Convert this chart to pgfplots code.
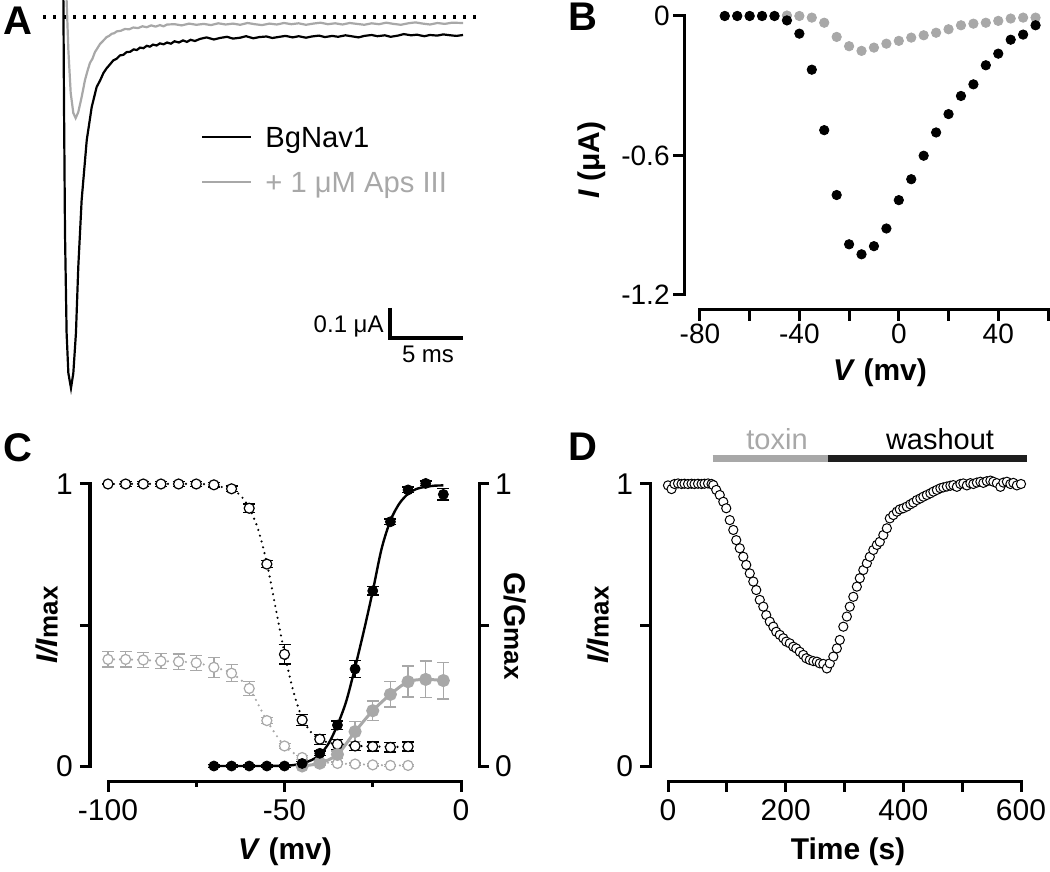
\documentclass[border=0pt]{standalone}
\usepackage{pgfplots}
\pgfplotsset{compat=1.18}
\usepackage{fontspec}
\setmainfont{Liberation Sans}
\definecolor{lg}{RGB}{168,168,168}
\definecolor{dk}{RGB}{30,30,30}
\newcommand{\fs}[1]{\fontsize{#1}{#1}\selectfont}
\pgfplotsset{prism/.style={
  scale only axis, clip=false, anchor=south west,
  axis line style={draw=none},
  tick align=outside,
  tick style={black, line width=1.5pt},
  major tick length=5pt, minor tick length=2.5pt,
}}
\pgfplotstableread{
x y
-0.30 0.20
-0.11 0.057
-0.07 -0.277
0.00 -0.72
0.11 -1.053
0.23 -1.187
0.41 -1.237
0.57 -1.187
0.75 -1.053
0.91 -0.833
1.14 -0.61
1.49 -0.41
1.83 -0.30
2.17 -0.233
2.40 -0.212
2.63 -0.187
2.85 -0.171
3.08 -0.158
3.30 -0.145
3.54 -0.139
3.77 -0.128
4.00 -0.126
4.22 -0.117
4.46 -0.116
4.70 -0.108
4.92 -0.110
5.14 -0.102
5.37 -0.104
5.60 -0.096
5.81 -0.099
6.03 -0.092
6.27 -0.095
6.50 -0.088
6.75 -0.091
6.99 -0.085
7.25 -0.089
7.50 -0.081
7.80 -0.085
8.08 -0.078
8.35 -0.083
8.60 -0.076
8.90 -0.080
9.25 -0.073
9.70 -0.068
10.2 -0.075
10.6 -0.070
11.1 -0.066
11.5 -0.072
12.0 -0.069
12.4 -0.064
12.9 -0.071
13.3 -0.067
13.8 -0.065
14.2 -0.070
14.7 -0.066
15.1 -0.063
15.6 -0.068
16.0 -0.064
16.5 -0.069
16.9 -0.065
17.4 -0.062
17.8 -0.067
18.3 -0.063
18.7 -0.066
19.2 -0.061
19.6 -0.064
20.1 -0.068
20.5 -0.063
21.0 -0.060
21.4 -0.064
21.9 -0.061
22.3 -0.066
22.8 -0.062
23.2 -0.057
23.7 -0.061
24.1 -0.059
24.6 -0.064
25.0 -0.060
25.5 -0.062
25.9 -0.058
26.4 -0.061
26.8 -0.063
27.26 -0.060
}\traceA
\pgfplotstableread{
x y
0.05 0.20
0.11 0.057
0.23 -0.11
0.39 -0.253
0.57 -0.32
0.73 -0.337
0.91 -0.317
1.14 -0.267
1.37 -0.21
1.55 -0.178
1.71 -0.153
1.88 -0.139
2.05 -0.117
2.22 -0.104
2.40 -0.090
2.62 -0.079
2.85 -0.067
3.02 -0.063
3.20 -0.056
3.37 -0.054
3.54 -0.048
3.82 -0.046
4.10 -0.040
4.40 -0.041
4.68 -0.035
5.00 -0.037
5.30 -0.031
5.60 -0.034
5.90 -0.028
6.20 -0.032
6.50 -0.027
6.75 -0.031
6.99 -0.025
7.5 -0.024
8.0 -0.028
8.5 -0.022
9.0 -0.026
9.5 -0.023
10.0 -0.027
10.5 -0.021
11.0 -0.025
11.5 -0.022
12.0 -0.026
12.5 -0.020
13.0 -0.024
13.5 -0.027
14.0 -0.022
14.5 -0.025
15.0 -0.020
15.5 -0.024
16.0 -0.021
16.5 -0.026
17.0 -0.022
17.5 -0.019
18.0 -0.024
18.5 -0.021
19.0 -0.025
19.5 -0.020
20.0 -0.023
20.5 -0.026
21.0 -0.021
21.5 -0.024
22.0 -0.019
22.5 -0.023
23.0 -0.026
23.5 -0.021
24.0 -0.018
24.5 -0.022
25.0 -0.025
25.5 -0.020
26.0 -0.023
26.5 -0.019
27.26 -0.020
}\traceB
\pgfplotstableread{
v i
-70 0
-65 0
-60 0
-55 0
-50 0
-45 -0.019
-40 -0.076
-35 -0.231
-30 -0.491
-25 -0.770
-20 -0.982
-15 -1.025
-10 -0.990
-5 -0.914
0 -0.792
5 -0.702
10 -0.601
15 -0.501
20 -0.422
25 -0.344
30 -0.294
35 -0.212
40 -0.162
45 -0.102
50 -0.080
55 -0.040
}\ivctl
\pgfplotstableread{
v i
-70 0
-65 0
-60 0
-55 0
-50 0
-45 0.002
-40 0
-35 -0.007
-30 -0.029
-25 -0.090
-20 -0.130
-15 -0.150
-10 -0.136
-5 -0.119
0 -0.107
5 -0.093
10 -0.083
15 -0.072
20 -0.057
25 -0.040
30 -0.033
35 -0.029
40 -0.021
45 -0.011
50 -0.007
55 -0.007
}\ivtox
\pgfplotstableread{
x y e
-100 1.000 0.000
-95 1.000 0.008
-90 1.000 0.008
-85 1.000 0.008
-80 1.000 0.008
-75 1.000 0.008
-70 0.997 0.008
-65 0.983 0.010
-60 0.914 0.015
-55 0.716 0.012
-50 0.396 0.034
-45 0.163 0.020
-40 0.095 0.018
-35 0.077 0.018
-30 0.071 0.016
-25 0.069 0.016
-20 0.066 0.016
-15 0.069 0.016
}\inactctl
\pgfplotstableread{
x y
-100 1.0
-75 1.0
-70 0.995
-65 0.98
-62.5 0.96
-60 0.915
-57.5 0.84
-55 0.72
-52.5 0.56
-50 0.40
-47.5 0.265
-45 0.17
-42.5 0.12
-40 0.095
-37.5 0.083
-35 0.077
-30 0.072
-25 0.069
-20 0.068
-15 0.068
}\inactctlfit
\pgfplotstableread{
x y e
-100 0.378 0.027
-95 0.378 0.027
-90 0.376 0.027
-85 0.372 0.027
-80 0.370 0.027
-75 0.366 0.027
-70 0.350 0.035
-65 0.329 0.030
-60 0.275 0.025
-55 0.161 0.010
-50 0.071 0.010
-45 0.030 0.008
-40 0.015 0.006
-35 0.009 0.005
-30 0.007 0.004
-25 0.004 0.004
-20 0.002 0.004
-15 0.002 0.004
}\inacttox
\pgfplotstableread{
x y e
-70 0 0.005
-65 0 0.005
-60 0 0.005
-55 0 0.005
-50 0 0.005
-45 0.009 0.006
-40 0.045 0.008
-35 0.145 0.015
-30 0.344 0.031
-25 0.621 0.015
-20 0.866 0.010
-15 0.979 0.010
-10 1.002 0.008
-5 0.963 0.020
}\actctl
\pgfplotstableread{
x y
-70 0
-50 0.001
-45 0.01
-42.5 0.02
-40 0.04
-37.5 0.08
-35 0.145
-32.5 0.23
-30 0.35
-27.5 0.48
-25 0.62
-22.5 0.77
-20 0.87
-17.5 0.93
-15 0.965
-12.5 0.983
-10 0.99
-7.5 0.994
-5 0.995
}\actctlfit
\pgfplotstableread{
x y e
-45 0.000 0.004
-40 0.010 0.006
-35 0.041 0.012
-30 0.122 0.035
-25 0.196 0.035
-20 0.254 0.045
-15 0.299 0.055
-10 0.307 0.065
-5 0.303 0.065
}\acttox
\pgfplotstableread{
t v
0 0.995
6 0.982
11 1.000
17 1.002
23 1.000
28 1.001
34 1.000
40 1.001
45 1.000
51 1.001
57 1.000
62 1.001
68 1.002
74 1.000
77 0.996
82 0.979
88 0.961
94 0.937
99 0.914
105 0.872
111 0.837
116 0.801
122 0.772
128 0.742
133 0.713
139 0.683
145 0.654
150 0.624
156 0.589
162 0.565
167 0.535
173 0.512
179 0.494
184 0.476
190 0.465
196 0.453
201 0.441
207 0.435
213 0.423
218 0.417
224 0.405
230 0.394
235 0.382
241 0.376
247 0.372
253 0.370
258 0.364
264 0.362
270 0.346
275 0.364
281 0.388
287 0.417
292 0.447
298 0.494
304 0.530
309 0.565
315 0.600
321 0.636
326 0.666
332 0.695
338 0.719
343 0.742
349 0.766
355 0.784
360 0.795
366 0.819
372 0.843
377 0.878
383 0.890
389 0.902
394 0.910
400 0.914
406 0.920
412 0.928
417 0.934
423 0.943
429 0.949
434 0.955
440 0.961
446 0.967
451 0.973
457 0.979
463 0.985
468 0.988
474 0.991
480 0.994
485 0.996
491 0.990
497 1.000
502 1.002
508 0.995
514 1.003
519 1.000
525 1.005
531 1.008
536 1.004
542 1.010
548 1.012
553 1.008
559 1.003
565 0.990
570 1.005
576 1.008
582 1.000
587 1.004
593 0.995
600 1.000
}\timecourse
\begin{document}
\begin{tikzpicture}
\useasboundingbox (0,0) rectangle (525pt,436pt);
% ---------------- A ----------------
\begin{axis}[scale only axis, anchor=south west, at={(21pt,232.5pt)},
  width=219pt, height=203.5pt, axis lines=none, clip=true,
  xmin=-1.575, xmax=28.42, ymin=-1.3, ymax=0.0567]
\draw[line width=1.7pt, dash pattern=on 1.7pt off 3.3pt] (axis cs:-1.5,0) -- (axis cs:28.3,0);
\addplot[lg, line width=1.1pt] table[x=x,y=y] {\traceB};
\addplot[black, line width=1.1pt] table[x=x,y=y] {\traceA};
\draw[line width=2pt] (axis cs:22.26,-0.97) -- (axis cs:22.26,-1.07) -- (axis cs:27.26,-1.07);
\end{axis}
\draw[black, line width=1pt] (101pt,367.5pt) -- (125.5pt,367.5pt);
\draw[lg, line width=1pt] (101pt,345pt) -- (125.5pt,345pt);
\node[anchor=base west, inner sep=0pt, font=\fs{14.6}] at (132.5pt,362pt) {BgNav1};
\node[anchor=base west, inner sep=0pt, font=\fs{14.6}, text=lg] at (132.5pt,339.5pt) {+ 1 μM Aps III};
\node[anchor=base east, inner sep=0pt, font=\fs{12}] at (192pt,269.5pt) {0.1 μA};
\node[anchor=base, inner sep=0pt, font=\fs{12}] at (214pt,254.5pt) {5 ms};
% ---------------- B ----------------
\begin{axis}[prism, at={(342pt,281pt)}, width=182pt, height=147pt,
  xmin=-86.4, xmax=60, ymin=-1.2645, ymax=0,
  xtick={-80,-60,...,60}, xticklabels={-80,,-40,,0,,40,},
  ytick={-1.2,-0.6,0}, yticklabels={-1.2,-0.6,0},
  xtick pos=left, ytick pos=left, major tick length=5.5pt,
  tick label style={font=\fs{14}, inner sep=1.5pt}]
\draw[line width=1.5pt, line cap=rect] (axis cs:-86.4,0) -- (axis cs:-86.4,-1.2);
\draw[line width=1.5pt, line cap=rect] (axis cs:-80,-1.2645) -- (axis cs:60,-1.2645);
\addplot[only marks, mark=*, mark size=2.35pt, mark options={draw=lg, fill=lg}] table[x=v,y=i] {\ivtox};
\addplot[only marks, mark=*, mark size=2.35pt, mark options={draw=black, fill=black}] table[x=v,y=i] {\ivctl};
\end{axis}
\node[rotate=90, font=\fs{15}\bfseries] at (296pt,356pt) {\textit{I} (μA)};
\node[font=\fs{15}\bfseries] at (440pt,249.5pt) {\textit{V} (mv)};
% ---------------- C ----------------
\begin{axis}[prism, at={(45pt,45pt)}, width=194.5pt, height=149pt,
  xmin=-105.1, xmax=5.1, ymin=-0.0567, ymax=1,
  xtick={-100,-50,0}, xticklabels={-100,-50,0}, minor xtick={-75,-25},
  ytick={0,0.5,1}, yticklabels={0,,1},
  xtick pos=left, ytick pos=both, yticklabel pos=left,
  tick label style={font=\fs{15}}]
\draw[line width=1.5pt, line cap=rect] (axis cs:-105.1,0) -- (axis cs:-105.1,1);
\draw[line width=1.5pt, line cap=rect] (axis cs:5.1,0) -- (axis cs:5.1,1);
\draw[line width=1.5pt, line cap=rect] (axis cs:-100,-0.0567) -- (axis cs:0,-0.0567);
% inactivation, toxin (grey open)
\addplot[lg, line width=1.2pt, line cap=round, dash pattern=on 0pt off 3pt, smooth] table[x=x,y=y] {\inacttox};
\addplot[lg, only marks, mark=*, mark size=2.5pt, mark options={draw=lg, fill=white, line width=0.6pt},
  error bars/.cd, y dir=both, y explicit, error bar style={lg, line width=0.6pt},
  error mark options={rotate=90, mark size=3pt, line width=0.6pt, lg}] table[x=x,y=y,y error=e] {\inacttox};
% inactivation, control (black open)
\addplot[black, line width=1.2pt, line cap=round, dash pattern=on 0pt off 3pt, smooth] table[x=x,y=y] {\inactctlfit};
\addplot[black, only marks, mark=*, mark size=2.5pt, mark options={draw=black, fill=white, line width=0.6pt},
  error bars/.cd, y dir=both, y explicit, error bar style={black, line width=0.6pt},
  error mark options={rotate=90, mark size=3pt, line width=0.6pt, black}] table[x=x,y=y,y error=e] {\inactctl};
% activation, toxin (grey filled)
\addplot[lg, line width=1.5pt, smooth, mark=*, mark size=2.5pt, mark options={draw=lg, fill=lg},
  error bars/.cd, y dir=both, y explicit, error bar style={lg, line width=0.7pt},
  error mark options={rotate=90, mark size=3pt, line width=0.7pt, lg}] table[x=x,y=y,y error=e] {\acttox};
% activation, control (black filled)
\addplot[black, line width=1.2pt, smooth] table[x=x,y=y] {\actctlfit};
\addplot[black, only marks, mark=*, mark size=2.5pt, mark options={draw=black, fill=black},
  error bars/.cd, y dir=both, y explicit, error bar style={black, line width=0.7pt},
  error mark options={rotate=90, mark size=3pt, line width=0.7pt, black}] table[x=x,y=y,y error=e] {\actctl};
\end{axis}
\node[anchor=west, font=\fs{15}] at (244pt,194pt) {1};
\node[anchor=west, font=\fs{15}] at (244pt,53pt) {0};
\node[rotate=90, font=\fs{15}\bfseries] at (23.5pt,123.5pt) {\textit{I/I}{\fs{13}max}};
\node[rotate=-90, font=\fs{15}\bfseries] at (257.5pt,123pt) {G/G{\fs{13}max}};
\node[font=\fs{15}\bfseries] at (142.5pt,10pt) {\textit{V} (mv)};
% ---------------- D ----------------
\begin{axis}[prism, at={(325pt,45pt)}, width=185.5pt, height=149pt,
  xmin=-30.6, xmax=600, ymin=-0.0567, ymax=1,
  xtick={0,100,...,600}, xticklabels={0,,200,,400,,600},
  ytick={0,0.5,1}, yticklabels={0,,1},
  xtick pos=left, ytick pos=left,
  tick label style={font=\fs{15}}]
\draw[line width=1.5pt, line cap=rect] (axis cs:-30.6,0) -- (axis cs:-30.6,1);
\draw[line width=1.5pt, line cap=rect] (axis cs:0,-0.0567) -- (axis cs:600,-0.0567);
\draw[lg, line width=3.5pt] (axis cs:76,1.089) -- (axis cs:272,1.089);
\draw[dk, line width=3.5pt] (axis cs:272,1.089) -- (axis cs:610,1.089);
\addplot[only marks, mark=*, mark size=2.3pt, mark options={draw=black, fill=white, line width=0.5pt}] table[x=t,y=v] {\timecourse};
\end{axis}
\node[anchor=base, inner sep=0pt, font=\fs{14.5}, text=lg] at (388.5pt,211pt) {toxin};
\node[anchor=base, inner sep=0pt, font=\fs{14.5}] at (470pt,211pt) {washout};
\node[rotate=90, font=\fs{15}\bfseries] at (299pt,123.5pt) {\textit{I/I}{\fs{13}max}};
\node[font=\fs{15}\bfseries] at (424pt,10pt) {Time (s)};
% panel letters
\node[font=\fs{20}\bfseries] at (9pt,425.5pt) {A};
\node[font=\fs{20}\bfseries] at (291.5pt,427.5pt) {B};
\node[font=\fs{20}\bfseries] at (9pt,212pt) {C};
\node[font=\fs{20}\bfseries] at (291.5pt,212.5pt) {D};
\end{tikzpicture}
\end{document}
